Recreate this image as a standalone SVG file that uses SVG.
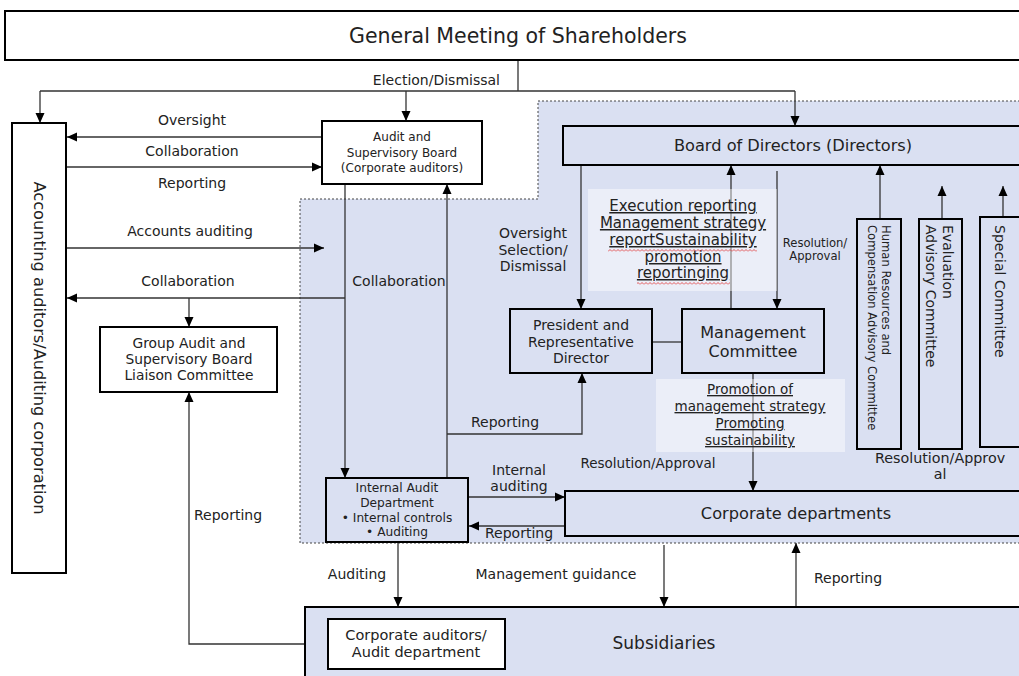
<svg xmlns="http://www.w3.org/2000/svg" width="1019" height="676" viewBox="0 0 1019 676">
<style>
text{font-family:"DejaVu Sans",sans-serif;fill:#222;}
.box{fill:#fff;stroke:#000;stroke-width:2;}
.bbox{fill:#dae0f2;stroke:#000;stroke-width:2;}
.ln{fill:none;stroke:#333;stroke-width:1.3;}
.arr{marker-end:url(#ah);}
.lab{font-size:14px;text-anchor:middle;}
.mid{text-anchor:middle;}
.ul{text-decoration:underline;}
</style>
<defs>
<marker id="ah" markerUnits="userSpaceOnUse" markerWidth="10" markerHeight="10" refX="10" refY="5" orient="auto">
<path d="M0,0.5 L10,5 L0,9.5 z" fill="#000"/>
</marker>
<pattern id="wave" width="4" height="3" patternUnits="userSpaceOnUse">
<path d="M0,2.5 L2,0.5 L4,2.5" fill="none" stroke="#e0302f" stroke-width="0.8"/>
</pattern>
</defs>

<rect width="1019" height="676" fill="#fff"/>

<g id="region">
<polygon points="300,199 538,199 538,101 1030,101 1030,543 300,543" fill="#dae0f2" stroke="#444" stroke-width="1" stroke-dasharray="2 2"/>
</g>

<g id="connectors">
<path class="ln" d="M518,60 V91 M40,91 H795"/>
<path class="ln arr" d="M40,91 V123"/>
<path class="ln arr" d="M406,91 V121"/>
<path class="ln arr" d="M795,91 V126"/>
<path class="ln arr" d="M322,137 H67"/>
<path class="ln arr" d="M66,167 H322"/>
<path class="ln arr" d="M66,248 H324"/>
<path class="ln arr" d="M345,298 H67"/>
<path class="ln arr" d="M189,298 V327"/>
<path class="ln arr" d="M345,184 V478"/>
<path class="ln arr" d="M447,478 V184"/>
<path class="ln arr" d="M447,434 H582 V373"/>
<path class="ln" d="M652,342 H682"/>
<path class="ln arr" d="M581,165 V309"/>
<path class="ln arr" d="M731,309 V165"/>
<path class="ln arr" d="M777,171 V309"/>
<path class="ln arr" d="M753,373 V491"/>
<path class="ln arr" d="M880,219 V165"/>
<path class="ln arr" d="M942,219 V186"/>
<path class="ln arr" d="M1003,217 V186"/>
<path class="ln arr" d="M468,497 H565"/>
<path class="ln arr" d="M565,526 H469"/>
<path class="ln arr" d="M398,542 V607"/>
<path class="ln arr" d="M664,545 V607"/>
<path class="ln arr" d="M796,607 V543"/>
<path class="ln arr" d="M328,644 H189 V392"/>
</g>

<g id="general-meeting">
<rect class="box" x="5" y="11" width="1030" height="49"/>
<text x="518" y="43" class="mid" font-size="20.5">General Meeting of Shareholders</text>
</g>

<g id="accounting-auditors">
<rect class="box" x="12" y="123" width="54" height="450"/>
<text transform="translate(39,348) rotate(90)" x="0" y="5.5" class="mid" font-size="16.2">Accounting auditors/Auditing corporation</text>
</g>

<g id="audit-board">
<rect class="box" x="322" y="121" width="160" height="63"/>
<text class="mid" font-size="12" x="402" y="141">Audit and</text>
<text class="mid" font-size="12" x="402" y="157">Supervisory Board</text>
<text class="mid" font-size="12" x="402" y="172">(Corporate auditors)</text>
</g>

<g id="board-of-directors">
<rect class="bbox" x="563" y="126" width="470" height="39"/>
<text class="mid" font-size="16.2" x="793" y="151">Board of Directors (Directors)</text>
</g>

<g id="president">
<rect class="bbox" x="510" y="309" width="142" height="64"/>
<text class="mid" font-size="14" x="581" y="330">President and</text>
<text class="mid" font-size="14" x="581" y="347">Representative</text>
<text class="mid" font-size="14" x="581" y="363">Director</text>
</g>

<g id="management-committee">
<rect class="bbox" x="682" y="309" width="142" height="64"/>
<text class="mid" font-size="16" x="753" y="338">Management</text>
<text class="mid" font-size="16" x="753" y="357">Committee</text>
</g>

<g id="hr-committee">
<rect class="bbox" x="857" y="219" width="44" height="230"/>
<text transform="translate(882,225) rotate(90)" font-size="11.6"><tspan x="0" y="0">Human Resources and</tspan><tspan x="0" y="14">Compensation Advisory Committee</tspan></text>
</g>

<g id="evaluation-committee">
<rect class="bbox" x="919" y="219" width="43" height="230"/>
<text transform="translate(943,225) rotate(90)" font-size="14"><tspan x="0" y="0">Evaluation</tspan><tspan x="0" y="17">Advisory Committee</tspan></text>
</g>

<g id="special-committee">
<rect class="bbox" x="980" y="217" width="50" height="230"/>
<text transform="translate(995,225) rotate(90)" font-size="14">Special Committee</text>
</g>

<g id="corporate-departments">
<rect class="bbox" x="565" y="491" width="470" height="45"/>
<text class="mid" font-size="16.2" x="796" y="519">Corporate departments</text>
</g>

<g id="internal-audit">
<rect class="bbox" x="326" y="478" width="142" height="64"/>
<text class="mid" font-size="12.2" x="397" y="491.5">Internal Audit</text>
<text class="mid" font-size="12.2" x="397" y="506.5">Department</text>
<text class="mid" font-size="12.2" x="397" y="521.5">• Internal controls</text>
<text class="mid" font-size="12.2" x="397" y="535.5">• Auditing</text>
</g>

<g id="group-audit">
<rect class="box" x="100" y="327" width="177" height="65"/>
<text class="mid" font-size="13.8" x="189" y="348">Group Audit and</text>
<text class="mid" font-size="13.8" x="189" y="364">Supervisory Board</text>
<text class="mid" font-size="13.8" x="189" y="380">Liaison Committee</text>
</g>

<g id="subsidiaries">
<rect class="bbox" x="305" y="607" width="730" height="80"/>
<text class="mid" font-size="17" x="664" y="649">Subsidiaries</text>
</g>

<g id="subsidiary-auditors">
<rect class="box" x="328" y="619" width="177" height="50"/>
<text class="mid" font-size="14.5" x="416" y="640">Corporate auditors/</text>
<text class="mid" font-size="14.5" x="416" y="657">Audit department</text>
</g>

<g id="labels">
<text x="500" y="85" font-size="14" text-anchor="end">Election/Dismissal</text>
<text class="lab" x="192" y="125">Oversight</text>
<text class="lab" x="192" y="156">Collaboration</text>
<text class="lab" x="192" y="188">Reporting</text>
<text class="lab" x="190" y="236">Accounts auditing</text>
<text class="lab" x="188" y="286">Collaboration</text>
<text class="lab" x="399" y="286">Collaboration</text>
<text class="lab" x="533" y="238">Oversight</text>
<text class="lab" x="533" y="255">Selection/</text>
<text class="lab" x="533" y="271">Dismissal</text>
<text class="mid" font-size="11.6" x="815" y="247">Resolution/</text>
<text class="mid" font-size="11.6" x="815" y="260">Approval</text>
<text class="mid" font-size="13.5" x="648" y="468">Resolution/Approval</text>
<text class="mid" font-size="14.3" x="940" y="463">Resolution/Approv</text>
<text class="mid" font-size="14.3" x="940" y="479">al</text>
<text class="lab" x="505" y="427">Reporting</text>
<text class="lab" x="519" y="475">Internal</text>
<text class="lab" x="519" y="491">auditing</text>
<text class="lab" x="519" y="538">Reporting</text>
<text class="lab" x="357" y="579">Auditing</text>
<text class="lab" x="556" y="579">Management guidance</text>
<text class="lab" x="848" y="583">Reporting</text>
<text class="lab" x="228" y="520">Reporting</text>
</g>

<g id="execution-note">
<rect x="588" y="189" width="189" height="102" fill="#fff" fill-opacity="0.45"/>
<text class="mid ul" font-size="15" x="683" y="211">Execution reporting</text>
<text class="mid ul" font-size="15" x="683" y="228">Management strategy</text>
<text class="mid ul" font-size="15" x="683" y="245">reportSustainability</text>
<text class="mid ul" font-size="15" x="683" y="262">promotion</text>
<text class="mid ul" font-size="15" x="683" y="278">reportinging</text>
<rect x="608" y="249" width="149" height="3" fill="url(#wave)"/>
<rect x="637" y="282" width="93" height="3" fill="url(#wave)"/>
</g>

<g id="promotion-note">
<rect x="656" y="379" width="189" height="73" fill="#fff" fill-opacity="0.45"/>
<text class="mid ul" font-size="13.5" x="750" y="394">Promotion of</text>
<text class="mid ul" font-size="13.5" x="750" y="411">management strategy</text>
<text class="mid ul" font-size="13.5" x="750" y="428">Promoting</text>
<text class="mid ul" font-size="13.5" x="750" y="445">sustainability</text>
</g>
</svg>
